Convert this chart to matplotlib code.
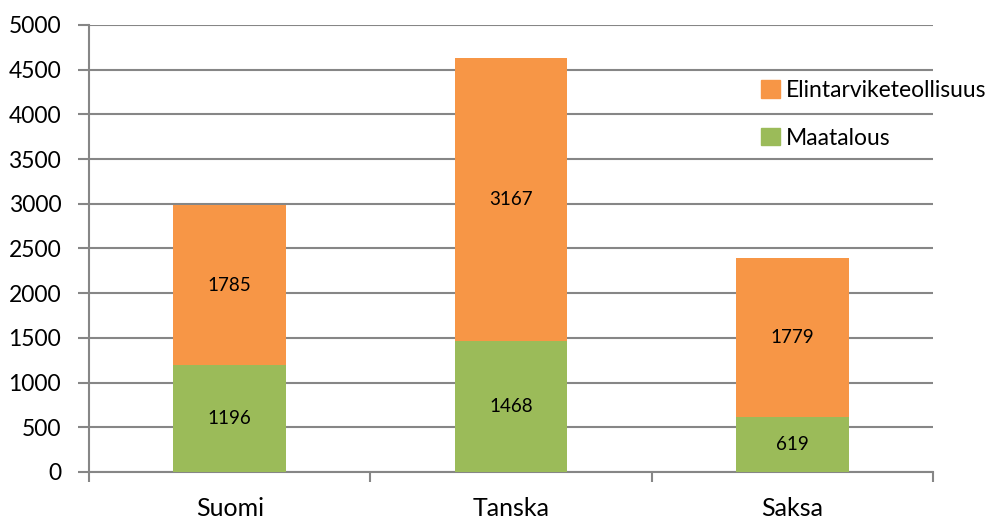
import matplotlib
matplotlib.use("Agg")
import matplotlib.pyplot as plt
from matplotlib.patches import Patch

categories = ["Suomi", "Tanska", "Saksa"]
maatalous = [1196, 1468, 619]
elintarvike = [1785, 3167, 1779]
yticks = [0, 500, 1000, 1500, 2000, 2500, 3000, 3500, 4000, 4500, 5000]

plt.rcParams['font.family'] = ['Lato', 'DejaVu Sans']

W, H = 1001, 518
fig = plt.figure(figsize=(W / 100, H / 100), dpi=100)
ax = fig.add_axes([89 / W, 1 - 472 / H, (933 - 89) / W, (472 - 25) / H])

green = "#9BBB59"
orange = "#F79646"
grid_c = "#868686"

x = list(range(len(categories)))
ax.bar(x, maatalous, width=0.4, color=green, zorder=3)
ax.bar(x, elintarvike, width=0.4, bottom=maatalous, color=orange, zorder=3)

for xi, m, e in zip(x, maatalous, elintarvike):
    ax.text(xi, m / 2, str(m), ha="center", va="center", fontsize=13.5, color="black", zorder=4)
    ax.text(xi, m + e / 2, str(e), ha="center", va="center", fontsize=13.5, color="black", zorder=4)

ax.set_xlim(-0.5, 2.5)
ax.set_ylim(0, 5000)
ax.set_yticks(yticks)
ax.set_yticklabels([str(t) for t in yticks], fontsize=16.5)
ax.yaxis.grid(True, color=grid_c, linewidth=1.5, zorder=0)
ax.set_axisbelow(True)

ax.set_xticks([-0.5, 0.5, 1.5, 2.5])
ax.set_xticklabels([])
ax.set_xticks(x, minor=True)
ax.set_xticklabels(categories, minor=True, fontsize=18)
ax.tick_params(axis="x", which="minor", length=0, pad=18)
ax.tick_params(axis="x", which="major", length=7, width=1.5, color=grid_c, direction="out")
ax.tick_params(axis="y", length=8, width=1.5, color=grid_c, pad=12)

for s in ["top", "right"]:
    ax.spines[s].set_visible(False)
for s in ["left", "bottom"]:
    ax.spines[s].set_color(grid_c)
    ax.spines[s].set_linewidth(1.5)

handles = [Patch(color=orange, label="Elintarviketeollisuus"), Patch(color=green, label="Maatalous")]
fig.legend(handles=handles, loc="upper left", bbox_to_anchor=(752 / W, 1 - 71 / H),
           frameon=False, fontsize=16.5, handlelength=0.8, handleheight=0.8,
           handletextpad=0.3, labelspacing=1.15, borderaxespad=0)

fig.savefig("out.png", dpi=100)
